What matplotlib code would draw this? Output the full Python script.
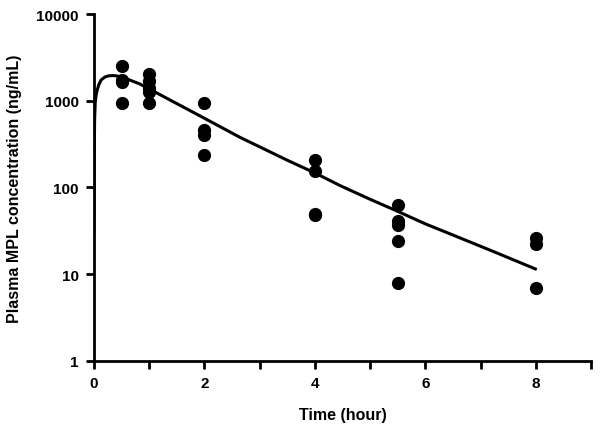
import matplotlib
matplotlib.use("Agg")
import matplotlib.pyplot as plt
import numpy as np

plt.rcParams['font.family'] = ['Liberation Sans', 'DejaVu Sans']
plt.rcParams['font.weight'] = 'bold'

# observed concentrations (ng/mL) at each sampling time (hour)
obs_time = [0.5, 0.5, 0.5, 0.5,
            1, 1, 1, 1, 1,
            2, 2, 2, 2,
            4, 4, 4, 4,
            5.5, 5.5, 5.5, 5.5, 5.5,
            8, 8, 8]
obs_conc = [2500, 1750, 1650, 950,
            2030, 1700, 1400, 1250, 950,
            950, 460, 400, 235,
            208, 154, 50, 48,
            62, 41, 37, 24, 8,
            26, 22, 7]

# fitted model curve
fit_time = [0.0, 0.005, 0.013, 0.024, 0.04, 0.06, 0.09, 0.13, 0.2, 0.26, 0.344,
            0.42, 0.5, 0.62, 0.833, 1.0, 1.5, 2.0, 2.645, 3.0, 3.5, 4.0,
            4.457, 5.0, 5.5, 6.0, 6.45, 7.2, 7.99]
fit_conc = [30, 200, 615, 955, 1160, 1330, 1540, 1735, 1880, 1935, 1950,
            1930, 1880, 1760, 1560, 1370, 927, 628, 378, 294, 206, 147,
            105, 73, 53, 38, 29.1, 18.6, 11.5]

fig, ax = plt.subplots(figsize=(6.02, 4.35), dpi=100)
fig.subplots_adjust(left=0.156, right=0.982, bottom=0.168, top=0.9655)

ax.plot(fit_time, fit_conc, color='black', lw=2.2, zorder=2)
ax.plot(obs_time, obs_conc, 'o', color='black', ms=8.5, zorder=3)

ax.set_yscale('log')
ax.set_ylim(1, 10000)
ax.set_xlim(0, 9)
ax.set_yticks([1, 10, 100, 1000, 10000])
ax.set_yticklabels(['1', '10', '100', '1000', '10000'])
ax.yaxis.set_minor_locator(matplotlib.ticker.NullLocator())
ax.set_xticks(range(0, 10))
ax.set_xticklabels(['0', '', '2', '', '4', '', '6', '', '8', ''])

for s in ['top', 'right']:
    ax.spines[s].set_visible(False)
for s in ['left', 'bottom']:
    ax.spines[s].set_linewidth(2.0)
ax.tick_params(width=2.0, length=6, labelsize=11, pad=5)

ax.set_xlabel('Time (hour)', fontsize=11.5, fontweight='bold', labelpad=12)
ax.set_ylabel('Plasma MPL concentration (ng/mL)', fontsize=11.5, fontweight='bold', labelpad=10)

fig.savefig('out.png')
